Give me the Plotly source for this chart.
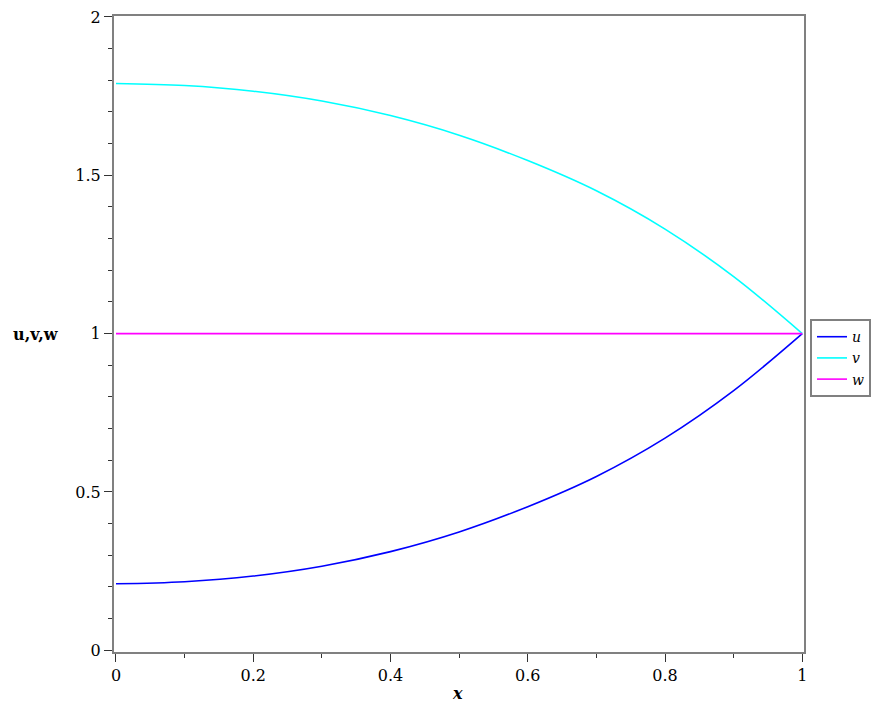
import plotly.graph_objects as go

# values
x = [0.0, 0.1, 0.2, 0.3, 0.4, 0.5, 0.6, 0.7, 0.8, 0.9, 1.0]
u = [0.210, 0.2165, 0.2345, 0.2655, 0.3115, 0.3735, 0.4535, 0.549, 0.670, 0.820, 1.0]
v = [1.790, 1.7835, 1.7655, 1.7345, 1.6885, 1.6265, 1.5465, 1.451, 1.330, 1.180, 1.0]
w = [1.0, 1.0, 1.0, 1.0, 1.0, 1.0, 1.0, 1.0, 1.0, 1.0, 1.0]

x_ticks = [0, 0.2, 0.4, 0.6, 0.8, 1]
x_labels = ["0", "0.2", "0.4", "0.6", "0.8", "1"]
y_ticks = [0, 0.5, 1, 1.5, 2]
y_labels = ["0", "0.5", "1", "1.5", "2"]

SERIF = "DejaVu Serif, Liberation Serif, serif"
AXIS_GREY = "#808080"

fig = go.Figure()
for name, ys, col in [("u", u, "#0000ff"), ("v", v, "#00ffff"), ("w", w, "#ff00ff")]:
    fig.add_trace(go.Scatter(
        x=x, y=ys, name=name, mode="lines",
        line=dict(color=col, width=1.6, shape="spline", smoothing=1.0),
    ))

axis_common = dict(
    showline=True, mirror=True, linecolor=AXIS_GREY, linewidth=2,
    showgrid=False, zeroline=False, automargin=False,
    ticklabeloverflow="allow",
    ticks="outside", ticklen=8, tickwidth=1, tickcolor="#333333",
    tickfont=dict(family=SERIF, size=16, color="black"),
)

fig.update_layout(
    width=884, height=707,
    margin=dict(l=106, r=88, t=8, b=63),
    paper_bgcolor="white", plot_bgcolor="white",
    font=dict(family=SERIF, size=16, color="black"),
    xaxis=dict(
        **axis_common,
        range=[-0.0029, 1.0025],
        tickvals=x_ticks, ticktext=x_labels,
        minor=dict(dtick=0.1, tick0=0, ticks="outside", ticklen=4,
                   tickcolor="#333333"),
    ),
    yaxis=dict(
        **axis_common,
        range=[-0.0054, 2.003],
        tickvals=y_ticks, ticktext=y_labels,
        minor=dict(dtick=0.1, tick0=0, ticks="outside", ticklen=4,
                   tickcolor="#333333"),
    ),
    showlegend=True,
    legend=dict(
        x=1.0087, y=0.5234, xanchor="left", yanchor="top",
        bordercolor=AXIS_GREY, borderwidth=2, bgcolor="white",
        font=dict(family=SERIF, size=14, style="italic"),
        tracegroupgap=0, itemwidth=30,
    ),
    annotations=[
        dict(text="<b>u,v,w</b>", xref="paper", yref="paper",
             x=-0.113, y=0.5, xanchor="center", yanchor="middle",
             showarrow=False, font=dict(family=SERIF, size=16)),
        dict(text="<b><i>x</i></b>", xref="paper", yref="paper",
             x=0.498, y=-0.066, xanchor="center", yanchor="middle",
             showarrow=False, font=dict(family=SERIF, size=16)),
    ],
)

fig.write_html("out.html")
